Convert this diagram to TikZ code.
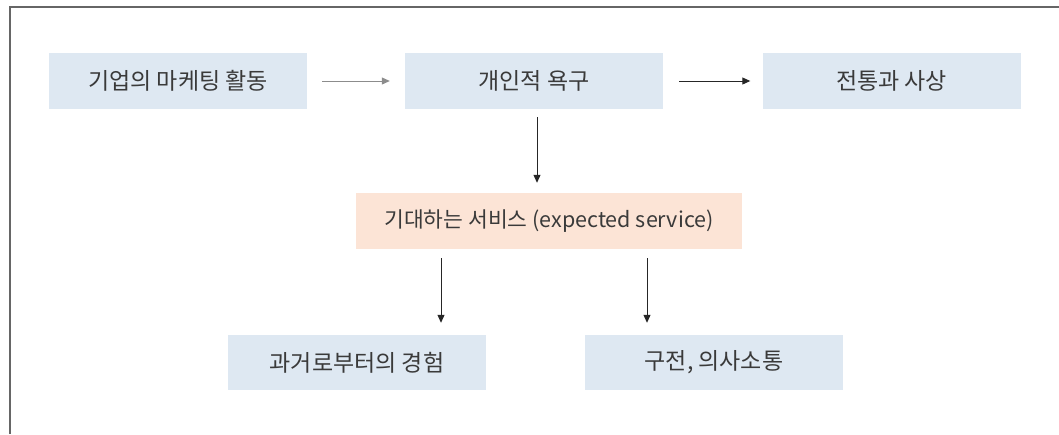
\documentclass[tikz,border=0pt]{standalone}
\usepackage{fontspec}
\setmainfont{Noto Sans CJK KR}
\usetikzlibrary{arrows.meta}
\definecolor{boxblue}{HTML}{DEE8F2}
\definecolor{boxpeach}{HTML}{FCE4D6}
\definecolor{txt}{HTML}{3A3A3A}
\definecolor{framec}{HTML}{666666}
\begin{document}
\begin{tikzpicture}[x=1pt,y=-1pt,
  bx/.style={fill=boxblue, minimum width=258pt, minimum height=56pt, inner sep=0pt, text=txt, font=\fontsize{23}{26}\selectfont},
  pbox/.style={bx, fill=boxpeach, minimum width=386pt, font=\fontsize{21.5}{26}\selectfont},
  arr/.style={-{Triangle[length=8pt,width=7pt]}, line width=1pt, draw=black!85, fill=black!85},
  garr/.style={arr, draw=black!45, fill=black!45}]
\useasboundingbox (0,0) rectangle (1059,434);
\draw[line width=1.5pt, draw=framec] (10,434) -- (10,7) -- (1059,7);
\node[bx] (b1) at (178,81) {기업의 마케팅 활동};
\node[bx] (b2) at (534,81) {개인적 욕구};
\node[bx] (b3) at (891.5,81) {전통과 사상};
\node[pbox] (m) at (549,221) {기대하는 서비스 (expected service)};
\node[bx, minimum height=55pt] (l) at (357,362.5) {과거로부터의 경험};
\node[bx, minimum height=55pt] (r) at (714,362.5) {구전, 의사소통};
\draw[garr, shorten <=15pt, shorten >=15pt] (b1) -- (b2);
\draw[arr, shorten <=16pt, shorten >=12pt] (b2) -- (b3);
\coordinate (c) at ([xshift=3pt]b2.south);
\draw[arr, shorten <=8pt, shorten >=10pt] (c) -- (c |- m.north);
\coordinate (d1) at ([xshift=-108pt]m.south);
\coordinate (d2) at ([xshift=98pt]m.south);
\draw[arr, shorten <=9pt, shorten >=12pt] (d1) -- (d1 |- l.north);
\draw[arr, shorten <=9pt, shorten >=12pt] (d2) -- (d2 |- r.north);
\end{tikzpicture}
\end{document}
